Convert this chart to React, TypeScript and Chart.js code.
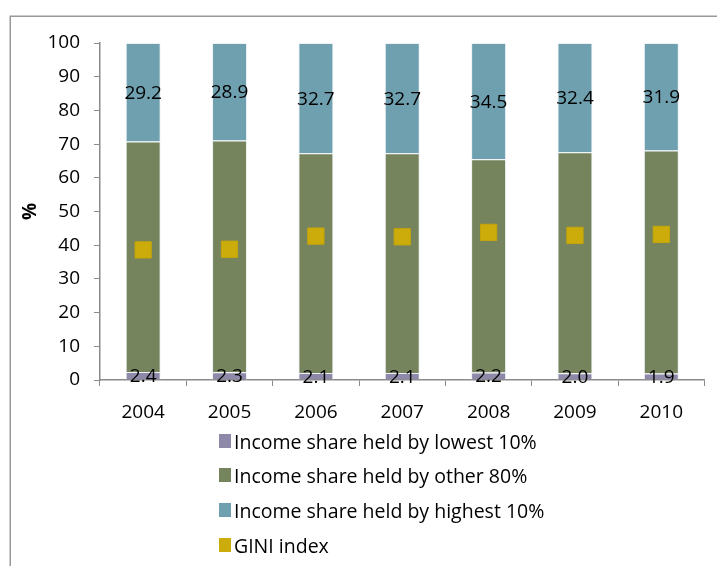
import React, { useEffect, useRef } from "react";
import { Chart, registerables } from "chart.js";

Chart.register(...registerables);

const years = ["2004", "2005", "2006", "2007", "2008", "2009", "2010"];
const lowest10 = [2.4, 2.3, 2.1, 2.1, 2.2, 2.0, 1.9];
const highest10 = [29.2, 28.9, 32.7, 32.7, 34.5, 32.4, 31.9];
const other80 = [68.4, 68.8, 65.2, 65.2, 63.3, 65.6, 66.2];
const gini = [38.6, 38.8, 42.7, 42.5, 43.8, 42.9, 43.2];
const yTicks = [0, 10, 20, 30, 40, 50, 60, 70, 80, 90, 100];

const labelNames = [
  "Income share held by lowest 10%",
  "Income share held by other 80%",
  "Income share held by highest 10%",
  "GINI index",
];
const colors = ["#8E89A9", "#76845E", "#6FA0AF", "#CBAC0B"];

const FONT = "'Open Sans', 'Noto Sans', sans-serif";
const AXIS = "#8a8a8a";

export default function App() {
  const ref = useRef<HTMLCanvasElement | null>(null);

  useEffect(() => {
    if (!ref.current) return;
    const labelPlugin = {
      id: "segLabels",
      beforeDraw(chart: any) {
        const ctx = chart.ctx;
        ctx.save();
        ctx.strokeStyle = "#999999";
        ctx.lineWidth = 1.5;
        ctx.beginPath();
        ctx.moveTo(10.25, 566);
        ctx.lineTo(10.25, 16.25);
        ctx.lineTo(717, 16.25);
        ctx.stroke();
        ctx.restore();
      },
      afterDatasetsDraw(chart: any) {
        const ctx = chart.ctx;
        ctx.save();
        ctx.fillStyle = "#000";
        ctx.font = `19px ${FONT}`;
        ctx.textAlign = "center";
        ctx.textBaseline = "middle";
        [0, 2].forEach((di) => {
          const meta = chart.getDatasetMeta(di);
          const data = chart.data.datasets[di].data as number[];
          meta.data.forEach((el: any, i: number) => {
            const cy = (el.y + el.base) / 2;
            ctx.fillText(Number(data[i]).toFixed(1), el.x, cy + 1);
          });
        });
        ctx.restore();
      },
    };

    const chart = new Chart(ref.current, {
      type: "bar",
      data: {
        labels: years,
        datasets: [
          {
            label: labelNames[0],
            data: lowest10,
            backgroundColor: colors[0],
            borderColor: "rgba(235,240,244,0.9)",
            borderWidth: 1,
            stack: "s",
            order: 1,
            barPercentage: 0.405,
            categoryPercentage: 1,
          },
          {
            label: labelNames[1],
            data: other80,
            backgroundColor: colors[1],
            borderColor: "rgba(235,240,244,0.9)",
            borderWidth: 1,
            stack: "s",
            order: 1,
            barPercentage: 0.405,
            categoryPercentage: 1,
          },
          {
            label: labelNames[2],
            data: highest10,
            backgroundColor: colors[2],
            borderColor: "rgba(235,240,244,0.9)",
            borderWidth: 1,
            stack: "s",
            order: 1,
            barPercentage: 0.405,
            categoryPercentage: 1,
          },
          {
            type: "line",
            label: labelNames[3],
            data: gini,
            showLine: false,
            pointStyle: "rect",
            pointRadius: 11.5,
            pointBackgroundColor: colors[3],
            pointBorderColor: "#C4A50A",
            pointBorderWidth: 1,
            stack: "gini",
            order: 0,
          } as any,
        ],
      },
      options: {
        responsive: false,
        animation: false,
        events: [],
        layout: { padding: { left: 0, top: 43, right: 10, bottom: 0 } },
        plugins: {
          legend: { display: false },
          tooltip: { enabled: false },
        },
        scales: {
          x: {
            stacked: true,
            offset: true,
            grid: {
              display: true,
              drawOnChartArea: false,
              drawTicks: true,
              tickLength: 6,
              color: AXIS,
              offset: true,
            },
            border: { display: true, color: AXIS, width: 1.5 },
            ticks: {
              color: "#000",
              font: { family: FONT, size: 19 },
              padding: 15,
              maxRotation: 0,
            },
            afterFit: (s: any) => {
              s.height = 186;
            },
          },
          y: {
            stacked: true,
            min: 0,
            max: 100,
            afterBuildTicks: (s: any) => {
              s.ticks = yTicks.map((v) => ({ value: v }));
            },
            grid: {
              display: true,
              drawOnChartArea: false,
              drawTicks: true,
              tickLength: 6,
              color: AXIS,
            },
            border: { display: true, color: AXIS, width: 1.5 },
            ticks: {
              color: "#000",
              font: { family: FONT, size: 19 },
              padding: 14,
            },
            title: {
              display: true,
              text: "%",
              color: "#000",
              font: { family: FONT, size: 19, weight: "bold" },
              padding: { top: 19, bottom: 0 },
            },
            afterFit: (s: any) => {
              s.width = 100;
            },
          },
        },
      },
      plugins: [labelPlugin],
    });
    return () => chart.destroy();
  }, []);

  const legendTops = [441, 475, 510, 545];

  return (
    <div
      style={{
        position: "fixed",
        left: 0,
        top: 0,
        width: 717,
        height: 566,
        background: "#fff",
        overflow: "hidden",
      }}
    >
      <canvas
        ref={ref}
        width={717}
        height={566}
        style={{ position: "absolute", left: 0, top: 0, width: 717, height: 566 }}
      />
      {labelNames.map((name, i) => (
        <div
          key={name}
          style={{
            position: "absolute",
            left: 219,
            top: legendTops[i] - 13,
            height: 26,
            display: "flex",
            alignItems: "center",
            fontFamily: FONT,
            fontSize: 19.5,
            color: "#000",
            whiteSpace: "nowrap",
          }}
        >
          <span
            style={{
              display: "inline-block",
              width: 12,
              height: 14,
              background: colors[i],
              marginRight: 3,
            }}
          />
          <span>{name}</span>
        </div>
      ))}
    </div>
  );
}
